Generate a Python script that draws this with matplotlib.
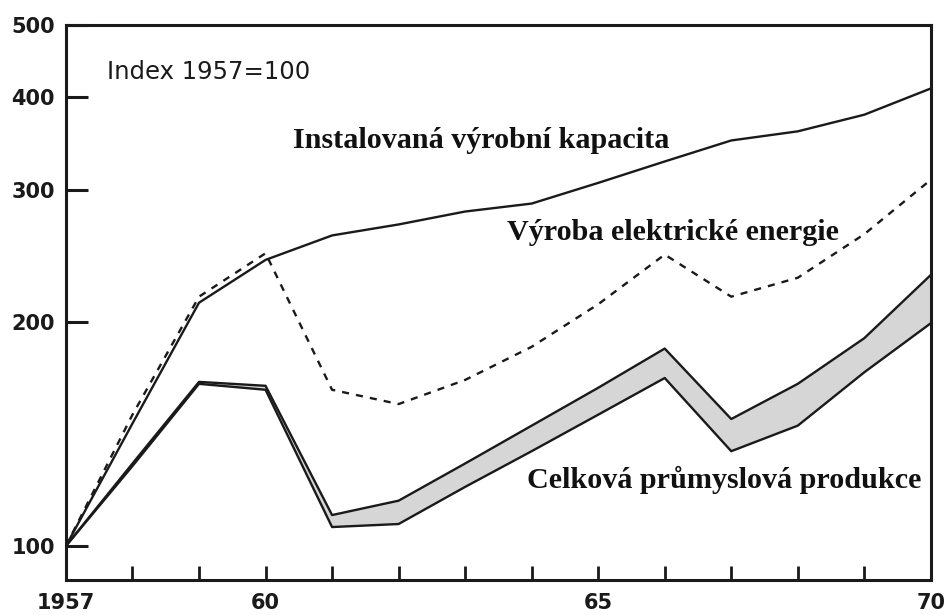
import matplotlib
matplotlib.use("Agg")
import matplotlib.pyplot as plt
from matplotlib.ticker import FixedLocator, NullLocator

years = list(range(1957, 1971))

# index 1957 = 100
kapacita = [100, 146, 212, 242, 261, 270, 281, 288, 307, 328, 350, 360, 379, 411]
vyroba = [100, 150, 216, 247, 162, 155, 167, 185, 211, 246, 216, 229, 262, 310]
produkce_horni = [100, 129, 166, 164, 110, 115, 129, 145, 163, 184, 148, 165, 190, 231]
produkce_dolni = [100, 128, 165, 162, 106, 107, 120, 134, 150, 168, 134, 145, 171, 199]

yticks = [100, 200, 300, 400, 500]
xticks = [1957, 1960, 1965, 1970]
xlabels = ["1957", "60", "65", "70"]

fig = plt.figure(figsize=(9.45, 6.15), dpi=100)
ax = fig.add_axes([0.0698, 0.0569, 0.9152, 0.9024])

ax.set_yscale("log")
ax.set_xlim(1957, 1970)
ax.set_ylim(90, 500)

lw = 1.7
ax.fill_between(years, produkce_dolni, produkce_horni, color="#d6d6d6", lw=0)
ax.plot(years, produkce_horni, color="#1a1a1a", lw=lw)
ax.plot(years, produkce_dolni, color="#1a1a1a", lw=lw)
ax.plot(years, kapacita, color="#1a1a1a", lw=lw)
ax.plot(years, vyroba, color="#1a1a1a", lw=lw, linestyle=(0, (3, 3)))

for s in ax.spines.values():
    s.set_linewidth(2.2)
    s.set_color("#1a1a1a")

ax.yaxis.set_major_locator(FixedLocator(yticks))
ax.yaxis.set_minor_locator(NullLocator())
ax.set_yticklabels([str(v) for v in yticks])
ax.set_xticks(years, minor=True)
ax.set_xticks(xticks)
ax.set_xticklabels(xlabels)

ax.tick_params(axis="y", direction="in", length=16, width=2.2, pad=8,
               labelsize=15, color="#1a1a1a")
ax.tick_params(axis="x", which="both", direction="in", length=10, width=2.0,
               pad=9, labelsize=15, color="#1a1a1a")
for lab in ax.get_xticklabels() + ax.get_yticklabels():
    lab.set_fontweight("bold")
    lab.set_family("DejaVu Sans")
    lab.set_color("#1a1a1a")

ax.text(0.047, 0.915, "Index 1957=100", transform=ax.transAxes,
        fontsize=17.5, family="DejaVu Sans", color="#1a1a1a", va="center")

serif = dict(fontsize=21.7, fontweight="bold", family="Liberation Serif",
             color="#111111", va="center", ha="left")
ax.text(1960.41, 350, "Instalovaná výrobní kapacita", **serif)
ax.text(1963.63, 263, "Výroba elektrické energie", **serif)
ax.text(1963.93, 122.6, "Celková průmyslová produkce", **serif)

fig.savefig("out.png", dpi=100)
